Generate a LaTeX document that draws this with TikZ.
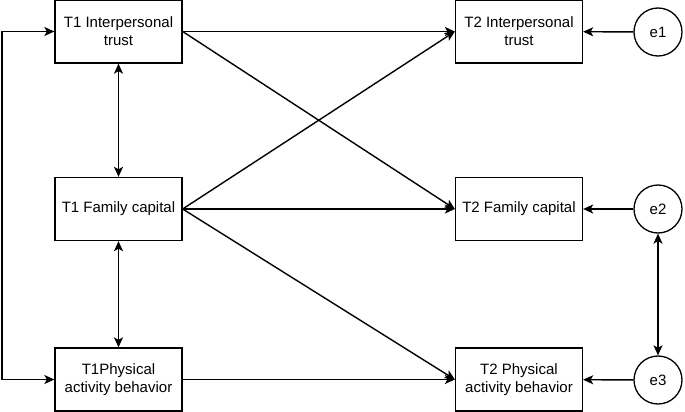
\documentclass[tikz,border=0pt]{standalone}
\usepackage{fontspec}
\setmainfont{Liberation Sans}
\usetikzlibrary{arrows.meta}

\begin{document}
\begin{tikzpicture}[x=1pt,y=-1pt,
	font=\fontsize{15}{18}\selectfont,
	varbox/.style={draw,line width=1.3pt,minimum width=127pt,minimum height=63pt,align=center,inner sep=2pt},
	errnode/.style={draw,circle,line width=1.3pt,minimum size=48pt,inner sep=0pt},
	causal/.style={line width=1.4pt,-{Stealth[length=10pt,width=9pt,inset=2.5pt]}},
	cov/.style={line width=1.4pt,{Stealth[length=10pt,width=9pt,inset=2.5pt]}-{Stealth[length=10pt,width=9pt,inset=2.5pt]}}]
	\useasboundingbox (0,0) rectangle (685,412);
	% measured variables
	\node[varbox] (t1trust) at (118.5,31.5) {T1 Interpersonal\\trust};
	\node[varbox] (t1fam) at (118.5,209) {T1 Family capital};
	\node[varbox] (t1phys) at (118.5,379.5) {T1Physical\\activity behavior};
	\node[varbox] (t2trust) at (519,31.5) {T2 Interpersonal\\trust};
	\node[varbox] (t2fam) at (519,209) {T2 Family capital};
	\node[varbox] (t2phys) at (519,379.5) {T2 Physical\\activity behavior};
	% errors
	\node[errnode] (e1) at (658,32) {e1};
	\node[errnode] (e2) at (658,209) {e2};
	\node[errnode] (e3) at (658,380) {e3};
	\coordinate (lefttop) at (2,31.5);
	\coordinate (leftbot) at (2,379.5);
	% paths
	\draw[causal] (t1trust) -- (t2trust);
	\draw[causal] (t1trust.east) -- (t2fam.west);
	\draw[causal] (t1fam.east) -- (t2trust.west);
	\draw[causal] (t1fam) -- (t2fam);
	\draw[causal] (t1fam.east) -- (t2phys.west);
	\draw[causal] (t1phys) -- (t2phys);
	\foreach \e/\v in {e1/t2trust, e2/t2fam, e3/t2phys} {
		\draw[causal] (\e) -- (\v);
	}
	% covariances
	\draw[cov] (t1trust) -- (t1fam);
	\draw[cov] (t1fam) -- (t1phys);
	\draw[cov] (e2) -- (e3);
	\draw[cov] (t1trust.west) -- (lefttop) -- (leftbot) -- (t1phys.west);
\end{tikzpicture}
\end{document}
